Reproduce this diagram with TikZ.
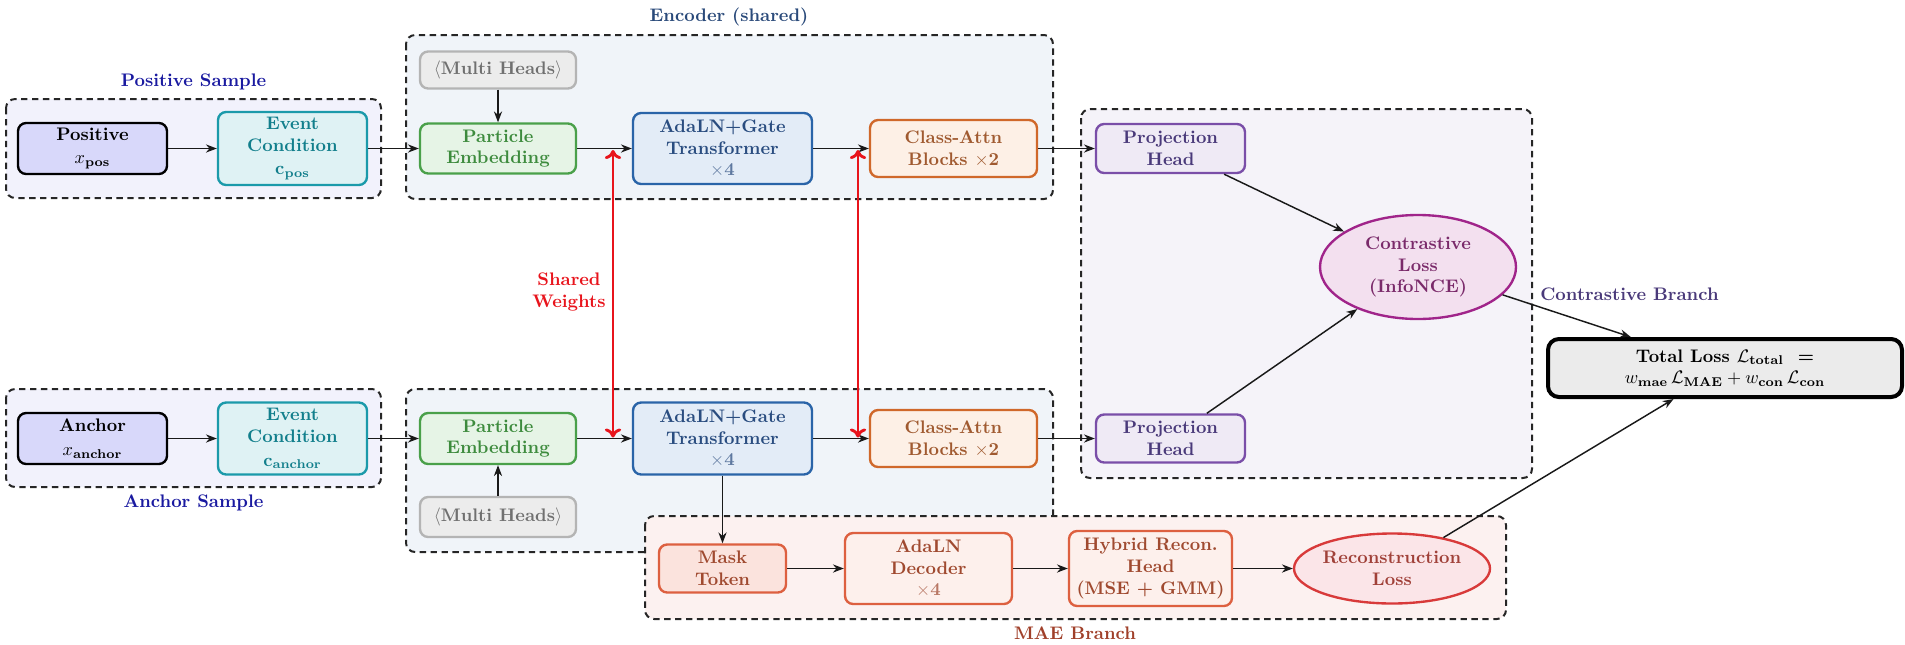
\documentclass[tikz,border=0pt]{standalone}
\usepackage{amsmath,amssymb}
\usetikzlibrary{arrows.meta,shapes.geometric,calc}
\definecolor{smpfill}{HTML}{F2F2FC}
\definecolor{encfill}{HTML}{F0F4F9}
\definecolor{confill}{HTML}{F5F3F9}
\definecolor{maefill}{HTML}{FCF1F0}
\definecolor{posfill}{HTML}{D8D8FA}
\definecolor{evfill}{HTML}{DFF2F4}
\definecolor{evdraw}{HTML}{1B9AAA}
\definecolor{evtxt}{HTML}{127F8C}
\definecolor{pefill}{HTML}{E6F4E6}
\definecolor{pedraw}{HTML}{4AA04A}
\definecolor{petxt}{HTML}{3D8B3D}
\definecolor{mhfill}{HTML}{ECECEC}
\definecolor{mhdraw}{HTML}{B4B4B4}
\definecolor{mhtxt}{HTML}{707070}
\definecolor{adfill}{HTML}{E3ECF7}
\definecolor{addraw}{HTML}{2A64A8}
\definecolor{adtxt}{HTML}{2A4D80}
\definecolor{cafill}{HTML}{FDF0E6}
\definecolor{cadraw}{HTML}{D0682A}
\definecolor{catxt}{HTML}{A05A30}
\definecolor{phfill}{HTML}{EFEAF5}
\definecolor{phdraw}{HTML}{7A4EA8}
\definecolor{phtxt}{HTML}{4A3A7A}
\definecolor{clfill}{HTML}{F3E0EF}
\definecolor{cldraw}{HTML}{A0248A}
\definecolor{cltxt}{HTML}{7A2A6A}
\definecolor{totfill}{HTML}{EBEBEB}
\definecolor{mkfill}{HTML}{FBE3DD}
\definecolor{mkdraw}{HTML}{DD6040}
\definecolor{mktxt}{HTML}{A04A30}
\definecolor{dcfill}{HTML}{FDF0EC}
\definecolor{rlfill}{HTML}{FBE5E8}
\definecolor{rldraw}{HTML}{D83A3A}
\definecolor{rltxt}{HTML}{A04038}
\definecolor{smptxt}{HTML}{1A1AA0}
\definecolor{enctxt}{HTML}{2A4A7A}
\definecolor{maetxt}{HTML}{A0402A}
\definecolor{shred}{HTML}{E8141C}
\begin{document}
\begin{tikzpicture}[x=0.55pt,y=-0.55pt,
  nd/.style={rounded corners=4.5pt, line width=1.3pt, align=center, font=\bfseries, inner sep=2pt},
  sz/.style 2 args={minimum width=#1*0.55pt, minimum height=#2*0.55pt},
  ell/.style={ellipse, line width=1.3pt, align=center, font=\bfseries, inner sep=0pt},
  region/.style={draw=black!85, dash pattern=on 3.5pt off 2.5pt, line width=1.1pt, rounded corners=5pt},
  lbl/.style={font=\bfseries},
  arr/.style={-{Stealth[length=6pt,width=4.5pt]}, line width=0.8pt, black!90},
  sharedarr/.style={{Computer Modern Rightarrow[length=5pt,width=9pt]}-{Computer Modern Rightarrow[length=5pt,width=9pt]}, shred, line width=1.6pt}
]
\useasboundingbox (0,0) rectangle (1905,644);
% regions
\draw[region, fill=smpfill] (6,99) rectangle (381,198);
\draw[region, fill=smpfill] (6,389) rectangle (381,487);
\draw[region, fill=encfill] (406,35) rectangle (1053,199);
\draw[region, fill=encfill] (406,389) rectangle (1053,552);
\draw[region, fill=confill] (1081,109) rectangle (1532,478);
\draw[region, fill=maefill] (645,516) rectangle (1506,619);
% region labels
\node[lbl, text=smptxt] (lpos) at (193.5,82) {Positive Sample};
\node[lbl, text=smptxt] (lanc) at (193.5,503) {Anchor Sample};
\node[lbl, text=enctxt] (lenc) at (729,17) {Encoder (shared)};
\node[lbl, text=maetxt] (lmae) at (1075,633) {MAE Branch};
\node[lbl, text=shred, align=center] (lsw) at (569,292) {Shared\\Weights};
\node[lbl, text=phtxt, anchor=west, inner sep=0pt] (lcb) at (1540,294) {Contrastive Branch};
% top row
\node[nd, sz={149}{51}, draw=black, fill=posfill] (pos) at (92.5,148.5) {Positive\\[1pt]$x_{\mathbf{pos}}$};
\node[nd, sz={149}{73}, draw=evdraw, fill=evfill, text=evtxt] (evpos) at (292.5,148.5) {Event\\Condition\\[1pt]$\mathbf{c}_{\mathbf{pos}}$};
\node[nd, sz={156}{37}, draw=mhdraw, fill=mhfill, text=mhtxt] (mhtop) at (498,70) {$\langle$Multi Heads$\rangle$};
\node[nd, sz={156}{50}, draw=pedraw, fill=pefill, text=petxt] (petop) at (498,148.5) {Particle\\Embedding};
\node[nd, sz={179}{71}, draw=addraw, fill=adfill, text=adtxt] (adatop) at (722.5,148.5) {AdaLN+Gate\\Transformer\\{\color{adtxt!75}$\times$4}};
\node[nd, sz={167}{57}, draw=cadraw, fill=cafill, text=catxt] (catop) at (953.5,148.5) {Class-Attn\\Blocks $\times$2};
\node[nd, sz={149}{49}, draw=phdraw, fill=phfill, text=phtxt] (phtop) at (1170.5,148.5) {Projection\\Head};
% bottom row
\node[nd, sz={149}{51}, draw=black, fill=posfill] (anc) at (92.5,438.5) {Anchor\\[1pt]$x_{\mathbf{anchor}}$};
\node[nd, sz={149}{72}, draw=evdraw, fill=evfill, text=evtxt] (evanc) at (292.5,438.5) {Event\\Condition\\[1pt]$\mathbf{c}_{\mathbf{anchor}}$};
\node[nd, sz={156}{51}, draw=pedraw, fill=pefill, text=petxt] (pebot) at (498,438.5) {Particle\\Embedding};
\node[nd, sz={156}{40}, draw=mhdraw, fill=mhfill, text=mhtxt] (mhbot) at (498,517) {$\langle$Multi Heads$\rangle$};
\node[nd, sz={179}{72}, draw=addraw, fill=adfill, text=adtxt] (adabot) at (722.5,438.5) {AdaLN+Gate\\Transformer\\{\color{adtxt!75}$\times$4}};
\node[nd, sz={167}{57}, draw=cadraw, fill=cafill, text=catxt] (cabot) at (953.5,438.5) {Class-Attn\\Blocks $\times$2};
\node[nd, sz={149}{48}, draw=phdraw, fill=phfill, text=phtxt] (phbot) at (1170.5,438.5) {Projection\\Head};
% losses
\node[ell, sz={196}{104}, draw=cldraw, fill=clfill, text=cltxt] (closs) at (1418,267) {Contrastive\\Loss\\(InfoNCE)};
\node[nd, sz={354}{58}, line width=2.2pt, draw=black, fill=totfill, rounded corners=6pt] (total) at (1725,368) {Total Loss $\mathcal{L}_{\mathbf{total}}$\ \ =\\$w_{\mathbf{mae}}\,\mathcal{L}_{\mathbf{MAE}} + w_{\mathbf{con}}\,\mathcal{L}_{\mathbf{con}}$};
% MAE branch
\node[nd, sz={127}{48}, draw=mkdraw, fill=mkfill, text=mktxt] (mask) at (722.5,568.5) {Mask\\Token};
\node[nd, sz={167}{71}, draw=mkdraw, fill=dcfill, text=mktxt] (dec) at (928.5,568.5) {AdaLN\\Decoder\\{\color{mktxt!75}$\times$4}};
\node[nd, sz={163}{75}, draw=mkdraw, fill=dcfill, text=mktxt] (hyb) at (1150.5,568.5) {Hybrid Recon.\\Head\\(MSE + GMM)};
\node[ell, sz={196}{70}, draw=rldraw, fill=rlfill, text=rltxt] (rloss) at (1392,568.5) {Reconstruction\\Loss};
% connectors
\draw[arr] (pos) -- (evpos);
\draw[arr] (evpos) -- (petop);
\draw[arr] (mhtop) -- (petop);
\draw[arr] (petop) -- (adatop);
\draw[arr] (adatop) -- (catop);
\draw[arr] (catop) -- (phtop);
\draw[arr] (anc) -- (evanc);
\draw[arr] (evanc) -- (pebot);
\draw[arr] (mhbot) -- (pebot);
\draw[arr] (pebot) -- (adabot);
\draw[arr] (adabot) -- (cabot);
\draw[arr] (cabot) -- (phbot);
\draw[arr] (phtop) -- (closs);
\draw[arr] (phbot) -- (closs);
\draw[arr] (closs) -- (total);
\draw[arr] (rloss) -- (total);
\draw[arr] (adabot) -- (mask);
\draw[arr] (mask) -- (dec);
\draw[arr] (dec) -- (hyb);
\draw[arr] (hyb) -- (rloss);
% shared weights
\coordinate (sw1a) at (613,150);
\coordinate (sw1b) at (613,437.5);
\coordinate (sw2a) at (858,150);
\coordinate (sw2b) at (858,437.5);
\draw[sharedarr] (sw1a) -- (sw1b);
\draw[sharedarr] (sw2a) -- (sw2b);
\end{tikzpicture}
\end{document}
